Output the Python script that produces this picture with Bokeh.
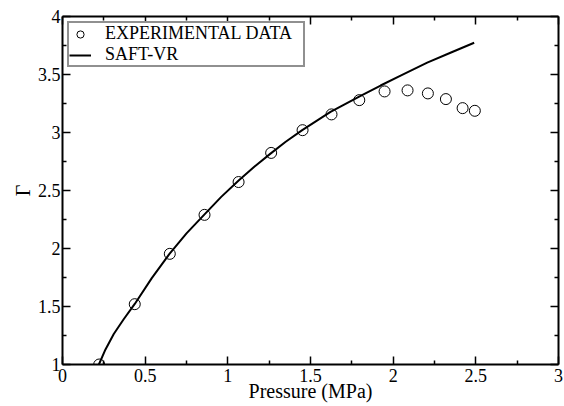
from bokeh.plotting import figure
from bokeh.models import LinearAxis, FixedTicker, Range1d, CustomJSTickFormatter
from bokeh.embed import file_html
from bokeh.resources import INLINE

exp_pressure = [0.222, 0.437, 0.649, 0.859, 1.065, 1.262, 1.452, 1.627, 1.795, 1.948,
                2.087, 2.210, 2.319, 2.420, 2.494]
exp_gamma = [1.00, 1.52, 1.954, 2.29, 2.573, 2.824, 3.02, 3.156, 3.279, 3.354,
             3.363, 3.337, 3.288, 3.21, 3.187]

# SAFT-VR curve
saft_pressure = [0.22, 0.26, 0.31, 0.37, 0.437, 0.54, 0.647, 0.75, 0.859, 0.96, 1.067,
                 1.16, 1.258, 1.35, 1.45, 1.621, 1.803, 1.924, 2.045, 2.206, 2.35, 2.49]
saft_gamma = [1.00, 1.13, 1.263, 1.39, 1.522, 1.745, 1.954, 2.13, 2.294, 2.445, 2.588,
              2.705, 2.818, 2.92, 3.02, 3.178, 3.315, 3.405, 3.49, 3.602, 3.69, 3.774]

x_ticks = [0, 0.5, 1, 1.5, 2, 2.5, 3]
x_tick_labels = ["0", "0.5", "1", "1.5", "2", "2.5", "3"]
y_ticks = [1, 1.5, 2, 2.5, 3, 3.5, 4]
y_tick_labels = ["1", "1.5", "2", "2.5", "3", "3.5", "4"]

x_minor = [(a + b) / 2 for a, b in zip(x_ticks[:-1], x_ticks[1:])]
y_minor = [(a + b) / 2 for a, b in zip(y_ticks[:-1], y_ticks[1:])]

FONT = "Liberation Serif"

LABEL_JS = """
let best = 0;
for (let i = 0; i < vals.length; i++) {
  if (Math.abs(vals[i] - tick) < Math.abs(vals[best] - tick)) best = i;
}
return labels[best];
"""

p = figure(width=564, height=406, output_backend="svg", toolbar_location=None,
           x_range=Range1d(0, 3), y_range=Range1d(1, 4),
           min_border_left=62, min_border_right=6, min_border_top=16, min_border_bottom=42)
p.outline_line_color = None
p.xgrid.visible = False
p.ygrid.visible = False
p.background_fill_color = "white"
p.border_fill_color = "white"

p.line(saft_pressure, saft_gamma, line_color="black", line_width=2, legend_label="SAFT-VR")
p.scatter(exp_pressure, exp_gamma, marker="circle", size=11, fill_color=None,
          line_color="black", line_width=1, legend_label="EXPERIMENTAL DATA")

xa = p.below[0]
ya = p.left[0]

top = LinearAxis(ticker=FixedTicker(ticks=x_ticks, minor_ticks=x_minor),
                 formatter=CustomJSTickFormatter(code="return ''"))
p.add_layout(top, "above")
right = LinearAxis(ticker=FixedTicker(ticks=y_ticks, minor_ticks=y_minor),
                   formatter=CustomJSTickFormatter(code="return ''"))
p.add_layout(right, "right")

for ax in [xa, ya, top, right]:
    ax.axis_line_color = "black"
    ax.axis_line_width = 2
    ax.major_tick_in = 8
    ax.major_tick_out = 0
    ax.minor_tick_in = 4
    ax.minor_tick_out = 0
    ax.major_tick_line_color = "black"
    ax.major_tick_line_width = 1.5
    ax.minor_tick_line_color = "black"
    ax.minor_tick_line_width = 1.5
    ax.major_label_text_font = FONT
    ax.major_label_text_font_size = "18px"
    ax.major_label_text_color = "black"
    ax.axis_label_text_font = FONT
    ax.axis_label_text_font_size = "20px"
    ax.axis_label_text_font_style = "normal"
    ax.axis_label_text_color = "black"

top.major_label_standoff = 0
right.major_label_standoff = 0

xa.ticker = FixedTicker(ticks=x_ticks, minor_ticks=x_minor)
xa.formatter = CustomJSTickFormatter(args=dict(vals=x_ticks, labels=x_tick_labels), code=LABEL_JS)
xa.axis_label = "Pressure (MPa)"
ya.ticker = FixedTicker(ticks=y_ticks, minor_ticks=y_minor)
ya.formatter = CustomJSTickFormatter(args=dict(vals=y_ticks, labels=y_tick_labels), code=LABEL_JS)
ya.axis_label = "Γ"

xa.major_label_standoff = 4
xa.axis_label_standoff = -5
ya.major_label_standoff = 2
ya.axis_label_standoff = 1

lg = p.legend[0]
lg.items = list(reversed(lg.items))
lg.location = "top_left"
lg.margin = 5
lg.padding = 0
lg.spacing = -3
lg.glyph_width = 22
lg.glyph_height = 18
lg.label_height = 18
lg.label_width = 198
lg.label_standoff = 14
lg.label_text_font = FONT
lg.label_text_font_size = "18px"
lg.label_text_color = "black"
lg.border_line_color = "#222222"
lg.border_line_width = 2
lg.background_fill_color = "white"
lg.background_fill_alpha = 1

open("out.html", "w").write(file_html(p, INLINE))
